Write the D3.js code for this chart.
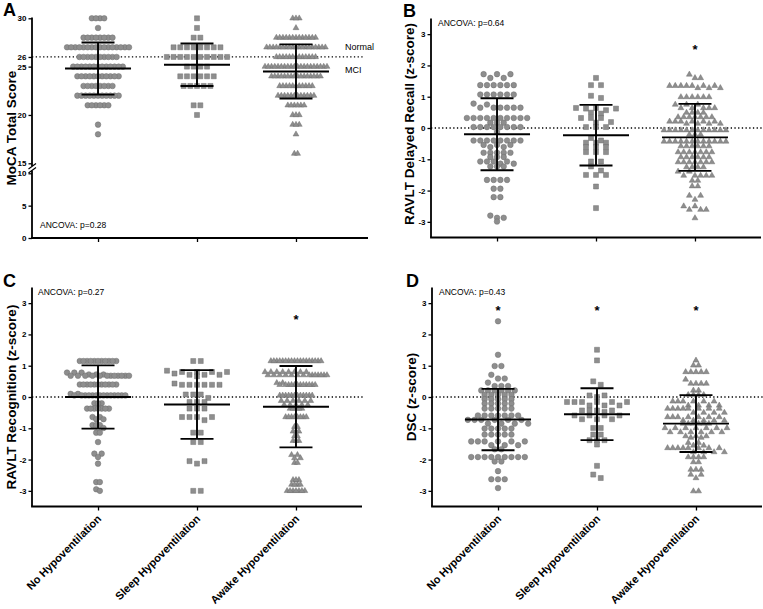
<!DOCTYPE html>
<html><head><meta charset="utf-8">
<script src="https://cdn.jsdelivr.net/npm/d3@7"></script>
<style>body{margin:0;background:#fff}svg{display:block}text{font-family:"Liberation Sans",Arial,sans-serif}</style>
</head><body><svg id="c" width="763" height="609"></svg>
<script>
const groups = ["No Hypoventilation", "Sleep Hypoventilation", "Awake Hypoventilation"];
const mocaTicksHi = [15, 20, 25, 26, 30];
const mocaTicksLo = [0, 5, 10];
const zTicks = [-3, -2, -1, 0, 1, 2, 3];

// Panel A: MoCA total score
const mocaNo = [30,30,30,30, 29, 28,28,28,28,28,28,28,28,
  27,27,27,27,27,27,27,27,27,27,27,27,27,27,27,27,
  26,26,26,26,26,26,26,26,26,26,
  25,25,25,25,25,25,25,25,25,25,25,25,25,
  24,24,24,24,24,24,24,24,24,24,24,
  23,23,23,23,23,23,23,23,
  22,22,22,22,22,22,22,22,22,22,22,
  21,21,21,21,21,21, 19, 18];
const mocaSleep = [30, 29, 28,28, 27,27,27,27,27,27,27,27,
  26,26,26,26,26,26,26,26,26,26, 25,25,25,25, 24,24,24,24,24,24,
  23,23,23,23,23, 21,21, 20];
const mocaAwake = [30,30,30, 29, 28,28,28,28,28,28,28,28,28,28,28,28,28,
  27,27,27,27,27,27,27,27,27,27,27,27,27,27,27,27,27,27,27,
  26,26,26,26,26,26,26,26,26,26,26,26,26,
  25,25,25,25,25,25,25,25,25,25,25,25,25,25,25,25,25,25,25,25,
  24,24,24,24,24,24,24,24,24,24,24,24,24,24,24,24,
  23,23,23,23,23,23,23,23,23,23,23,
  22,22,22,22,22,22,22,22,22,22,22,22,
  21,21,21,21,21,21, 20,20,20, 19,19,19, 18, 16,16];
const mocaMean = [24.8, 25.2, 24.5];
const mocaSD = [2.7, 2.2, 2.8];

// Panel B: RAVLT delayed recall (z-score)
const recallNo = [1.72,1.72,1.72,1.60,1.60, 1.37,1.37,1.37,1.37,1.37,1.37,
  1.07,1.07,1.07,1.07,1.07,1.07, 0.78,0.75, 0.65,0.65,0.65,0.65,0.65,0.65,
  0.32,0.32,0.32,0.32,0.32,0.32,0.32,0.32,0.32,0.32, 0.17,0.17,0.17,
  0.03,0.03,0.03,0.03,0.03,0.03,0.03,0.03, -0.13,
  -0.40,-0.40,-0.40,-0.40,-0.40,-0.40,-0.40,-0.40, -0.54,-0.54,-0.54, -0.61,-0.61,
  -0.79,-0.79,-0.79,-0.79,-0.79, -0.93,-0.93,-0.93, -1.07,-1.07,-1.07,-1.07, -1.14,-1.14,
  -1.23,-1.23,-1.23, -1.66,-1.66,-1.66,-1.66, -1.94,-1.94, -2.21,-2.21,
  -2.80,-2.87,-2.87,-2.99];
const recallSleep = [1.60, 1.37,1.37, 1.03, 0.96, 0.64,0.64,0.62,0.62,0.57, 0.49,0.46,
  0.32,0.32,0.32,0.19, 0.17, 0.03,0.03,0.03, -0.32,-0.40, -0.47,-0.47,-0.47,
  -0.61,-0.61,-0.61, -0.77,-0.77,-0.77, -1.07,-1.07, -1.23, -1.36, -1.50,-1.50,-1.50, -1.87, -2.56];
const recallAwake = [1.71, 1.60,1.60, 1.35,1.35,1.35,1.35,1.35,1.35,1.35, 1.28,1.28,1.28,
  0.99,0.99,0.99,0.99,0.99,0.99, 0.75,0.75,0.75, 0.64,0.64,0.64,0.64,0.64,
  0.49,0.49,0.49,0.49, 0.35,0.35,0.35,0.35,0.35,0.35,0.35,
  0.21,0.21,0.21,0.21,0.21,0.21, 0.14,0.14,0.14,0.14,
  -0.07,-0.07,-0.07,-0.07,-0.07,-0.07,-0.07,-0.07,-0.07,-0.07,-0.07,-0.07, -0.21,-0.21,-0.21,
  -0.43,-0.43,-0.43,-0.43,-0.43,-0.43,-0.43,-0.43,-0.43,-0.43,-0.43,-0.43,
  -0.58,-0.58,-0.58,-0.58,-0.58,-0.58, -0.77,-0.77,-0.77,-0.77,-0.77,-0.77,-0.77,
  -0.93,-0.93,-0.93,-0.93,-0.93,-0.93, -1.09,-1.09,-1.09,-1.09,-1.09,-1.09,-1.09,
  -1.25,-1.25,-1.25,-1.25, -1.39,-1.39, -1.52,-1.52,-1.52,-1.52,-1.52, -1.68,-1.68,
  -1.86,-1.86, -2.16,-2.16, -2.29, -2.50,-2.50, -2.61,-2.61,-2.61, -2.88];
const recallMean = [-0.20, -0.23, -0.30];
const recallSD = [1.15, 0.97, 1.07];

// Panel C: RAVLT recognition (z-score)
const recogNo = [1.15,1.15,1.15,1.15,1.15,1.15,1.15,1.15,1.15,1.15,1.15,
  0.78,0.78,0.78,0.72,0.72,0.72, 0.68,0.68,0.68,0.68,0.68,0.68,0.68,0.68,0.68,0.68,0.68,0.68,
  0.40,0.40,0.40,0.40,0.40,0.40,0.40,0.40,0.40,0.40,0.40,
  0.10,0.10, 0.05,0.05,0.05,0.05,0.05,0.05,0.05,0.05,0.05,0.05,0.05,0.05,0.05,0.05,
  -0.20,-0.20,-0.20, -0.37,-0.37,-0.37,-0.37,-0.37,-0.37,-0.37,
  -0.64,-0.64,-0.71,-0.71, -0.90,-0.90,-0.90,-0.99, -1.14,-1.14, -1.44,
  -1.81,-1.81,-1.92,-2.13, -2.72,-2.72,-2.95,-3.00];
const recogSleep = [1.15,1.15, 0.84,0.80,0.80,0.80,0.80,0.75,0.71,0.71,0.71, 0.66,
  0.43, 0.39,0.39,0.39,0.39,0.39,0.39, 0.08,0.08,0.08,-0.03, -0.16,-0.16,-0.16,
  -0.37,-0.37,-0.37, -0.64,-0.64,-0.64,-0.64,-0.74, -1.14,-1.14, -1.44,-1.44,
  -2.05,-2.05,-2.13, -3.00,-3.00];
const recogAwake = [1.15,1.15,1.15,1.15,1.15,1.15,1.15,1.15,1.15,1.15,1.15,1.15,1.15,1.15,1.15,1.15,1.15,1.15,
  0.80,0.80,0.80,0.80,0.80,0.80,0.80,0.80,
  0.70,0.70,0.70,0.70,0.70,0.70,0.70,0.70,0.70,0.70,0.70,0.70,0.70,0.70,
  0.45,0.45, 0.39,0.39,0.39,0.39,0.39,0.39,0.39,0.39,0.39,0.39,0.39,0.39,
  0.05,0.05,0.05,0.05,0.05,0.05,0.05,0.05,0.05,0.05,0.05,0.05,
  -0.12,-0.12,-0.12,-0.12,-0.12,-0.12, -0.25,-0.25,-0.25,-0.25,-0.25, -0.37,-0.37,-0.37,-0.37,-0.37,
  -0.64,-0.64,-0.64,-0.64,-0.64,-0.64,-0.64,-0.64,
  -0.95,-0.95, -1.10,-1.10,-1.10, -1.25,-1.25, -1.40,-1.40,-1.40,
  -1.85,-1.85, -1.95,-1.95, -2.10,-2.10,
  -2.65,-2.65,-2.65, -2.80,-2.80,-2.80,-2.80, -3.00,-3.00,-3.00,-3.00,-3.00,-3.00,-3.00];
const recogMean = [0.00, -0.24, -0.31];
const recogSD = [1.01, 1.10, 1.30];

// Panel D: DSC (z-score)
const dscNo = [2.42, 1.35, 0.99,0.99, 0.71, 0.59,0.59, 0.46, 0.35,0.35,0.35,
  0.21,0.21,0.21,0.21,0.21,0.21, 0.07,0.07,0.07,0.07,0.07, -0.07,-0.07,-0.07,-0.07,-0.07,
  -0.21,-0.21,-0.21,-0.21,-0.21, -0.37,-0.37,-0.37,-0.37,-0.37,
  -0.59,-0.59,-0.59,-0.59,-0.59,-0.59,-0.59, -0.73,-0.73,-0.73,-0.73,-0.73,-0.73,
  -0.85,-0.85,-0.85,-0.85, -1.01,-1.01,-1.01,-1.01,-1.01, -1.20,-1.20,-1.20,-1.20,-1.20,
  -1.42,-1.42,-1.42,-1.42,-1.42,-1.42, -1.54,-1.54,-1.54, -1.67,-1.67,
  -1.92,-1.92,-1.92,-1.92,-1.92,-1.92,-1.92,-1.92,-1.92, -2.06,-2.06, -2.37,
  -2.63,-2.63,-2.63, -2.91];
const dscSleep = [1.51, 1.17, 0.50, 0.39, 0.05,0.05,0.00,
  -0.16,-0.16,-0.16,-0.16,-0.16,-0.16, -0.27,-0.27,-0.27, -0.43,-0.43,-0.43,-0.43,-0.48,
  -0.59,-0.59,-0.59,-0.59, -0.71,-0.71,-0.71, -0.99,-0.99, -1.20,-1.20,
  -1.38,-1.38,-1.38, -1.52, -2.20, -2.48, -2.59];
const dscAwake = [1.17, 1.01,1.01, 0.80,0.80,0.80,0.80,0.80, 0.56, 0.43,0.43,0.43,0.43,
  0.21,0.21, 0.07,0.07,0.07,0.07, -0.14,-0.14,-0.14,-0.14,-0.14,-0.14, -0.27,-0.27,-0.27,-0.27,
  -0.37,-0.37,-0.37,-0.37,-0.37,-0.37,-0.37,-0.37, -0.50,-0.50,-0.50,-0.50,
  -0.64,-0.64,-0.64,-0.64,-0.64,-0.64,-0.64, -0.75,-0.75,-0.75,-0.75,-0.75,
  -0.85,-0.85,-0.85,-0.85,-0.85,-0.85, -0.99,-0.99,-0.99,-0.99,-0.99,-0.99,-0.99,
  -1.12,-1.12,-1.12,-1.12,-1.12,-1.12, -1.25,-1.25,-1.25, -1.30,-1.30, -1.46,-1.46, -1.55,-1.55,
  -1.63,-1.63,-1.63,-1.63,-1.63,-1.63,-1.63,-1.63, -1.76,-1.76,-1.76,-1.76,
  -1.92,-1.92,-1.92,-1.92, -2.08,-2.08, -2.32,-2.32,-2.32, -2.48,-2.48, -2.59, -3.01,-3.01];
const dscMean = [-0.72, -0.55, -0.85];
const dscSD = [0.98, 0.83, 0.91];

const svg = d3.select("#c");
const shapes = [d3.symbolCircle, d3.symbolSquare, d3.symbolTriangle];
const symSize = [25, 25, 15];

function swarm(values, y, natural, maxW, binH) {
  const pts = values.map(v => ({v, py: y(v)})).sort((a, b) => a.py - b.py);
  const bins = []; let cur = null;
  for (const p of pts) {
    if (!cur || p.py - cur.start > binH) { cur = {start: p.py, items: []}; bins.push(cur); }
    cur.items.push(p);
  }
  const maxN = d3.max(bins, b => b.items.length);
  const s = maxN > 1 ? Math.min(natural, maxW / (maxN - 1)) : natural;
  for (const b of bins) {
    const n = b.items.length, k = Math.ceil(n / 2), order = [];
    for (let i = 0; i < k; i++) { order.push(b.items[i]); if (i + k < n) order.push(b.items[i + k]); }
    order.forEach((p, i) => p.dx = (i - (n - 1) / 2) * s);
  }
  return pts;
}

function panel(o) {
  const g = svg.append("g");
  const x = d3.scalePoint().domain(groups).range([o.left, o.left + 330]).padding(0.667);
  const y = o.y;
  g.append("line").attr("x1", o.left).attr("x2", o.left + 331)
    .attr("y1", y(o.ref)).attr("y2", y(o.ref))
    .attr("stroke", "#000").attr("stroke-width", 1.3).attr("stroke-dasharray", "1.3,2.4");
  o.axes.forEach(a => {
    const ax = g.append("g").attr("transform", `translate(${o.left},0)`)
      .call(d3.axisLeft(a.scale).tickValues(a.ticks).tickFormat(d => String(d))
        .tickSize(3.5).tickPadding(2).tickSizeOuter(0));
    ax.select(".domain").remove();
    ax.selectAll(".tick line").attr("stroke-width", 1.3);
    ax.selectAll(".tick text").attr("font-size", 8).attr("font-weight", "bold")
      .attr("font-family", '"Liberation Sans",Arial,sans-serif');
    g.append("line").attr("x1", o.left).attr("x2", o.left).attr("y1", a.y0).attr("y2", a.y1)
      .attr("stroke", "#000").attr("stroke-width", 1.8);
  });
  const xa = g.append("g").attr("transform", `translate(0,${o.bottom})`)
    .call(d3.axisBottom(x).tickSize(4).tickFormat("").tickSizeOuter(0));
  xa.select(".domain").remove();
  xa.selectAll(".tick line").attr("stroke-width", 1.3);
  g.append("line").attr("x1", o.left - 0.9).attr("x2", o.xEnd).attr("y1", o.bottom).attr("y2", o.bottom)
    .attr("stroke", "#000").attr("stroke-width", 1.8);
  if (o.labels) {
    groups.forEach(c => {
      g.append("text").attr("transform", `translate(${x(c) + 4},${o.bottom + 13}) rotate(-45)`)
        .attr("text-anchor", "end").attr("font-size", 11).attr("font-weight", "bold").text(c);
    });
  }
  o.data.forEach((vals, i) => {
    const pts = swarm(vals, y, o.natural[i], 62, o.binH);
    g.append("g").selectAll("path").data(pts).join("path")
      .attr("d", d3.symbol(shapes[i], symSize[i]))
      .attr("transform", p => `translate(${x(groups[i]) + p.dx},${p.py})`)
      .attr("fill", "#8e8e8e").attr("stroke", "#6c6c6c").attr("stroke-width", 0.45);
  });
  o.mean.forEach((m, i) => {
    const cx = x(groups[i]), sd = o.sd[i];
    const ln = (x1, y1, x2, y2) => g.append("line").attr("x1", x1).attr("y1", y1).attr("x2", x2).attr("y2", y2)
      .attr("stroke", "#000").attr("stroke-width", 1.9);
    ln(cx, y(m - sd), cx, y(m + sd));
    ln(cx - 33, y(m), cx + 33, y(m));
    ln(cx - 16.5, y(m + sd), cx + 16.5, y(m + sd));
    ln(cx - 16.5, y(m - sd), cx + 16.5, y(m - sd));
  });
  o.stars.forEach((s, i) => {
    if (s) g.append("text").attr("x", x(groups[i])).attr("y", y(o.starY) + 7.5).attr("text-anchor", "middle")
      .attr("font-size", 13).attr("font-weight", "bold").text("*");
  });
  g.append("text").attr("transform", `translate(${o.titleX},${o.titleY}) rotate(-90)`)
    .attr("text-anchor", "middle").attr("font-size", 13.5).attr("font-weight", "bold").text(o.title);
  g.append("text").attr("x", o.letter[0]).attr("y", o.letter[1]).attr("font-size", 18)
    .attr("font-weight", "bold").text(o.letterText);
  g.append("text").attr("x", o.anc[0]).attr("y", o.anc[1]).attr("font-size", 8.5).text(o.ancText);
  return g;
}

// Panel A
const yHi = d3.scaleLinear().domain([15, 30]).range([163.3, 18.3]);
const yLo = d3.scaleLinear().domain([0, 10]).range([238, 173.3]);
const yA = v => v >= 15 ? yHi(v) : yLo(v);
const gA = panel({
  left: 32, bottom: 238, xEnd: 368, y: yA, ref: 26,
  axes: [{scale: yHi, ticks: mocaTicksHi, y0: 17.5, y1: 166}, {scale: yLo, ticks: mocaTicksLo, y0: 170.5, y1: 238}],
  data: [mocaNo, mocaSleep, mocaAwake], natural: [6.7, 6.7, 6.7], binH: 4.2,
  mean: mocaMean, sd: mocaSD, stars: [false, false, false], starY: 0,
  title: "MoCA Total Score", titleX: 16, titleY: 128,
  letter: [3, 16], letterText: "A", anc: [40, 228], ancText: "ANCOVA: p=0.28", labels: false
});
gA.append("path").attr("d", "M28.5,169 L36,163.5 M28.5,173 L36,167.5").attr("stroke", "#000").attr("stroke-width", 1.2).attr("fill", "none");
gA.append("text").attr("x", 345).attr("y", 50).attr("font-size", 9).attr("fill", "#000").text("Normal");
gA.append("text").attr("x", 345).attr("y", 73).attr("font-size", 9).attr("fill", "#000").text("MCI");

// Panel B
const yB = d3.scaleLinear().domain([-3.5, 3.5]).range([237.5, 18.5]);
panel({
  left: 431, bottom: 237.5, xEnd: 761, y: yB, ref: 0,
  axes: [{scale: yB, ticks: zTicks, y0: 18.5, y1: 237.5}],
  data: [recallNo, recallSleep, recallAwake], natural: [6.7, 10, 6.7], binH: 4.2,
  mean: recallMean, sd: recallSD, stars: [false, false, true], starY: 2.59,
  title: "RAVLT Delayed Recall (z-score)", titleX: 414, titleY: 124,
  letter: [403, 17], letterText: "B", anc: [438, 26], ancText: "ANCOVA: p=0.64", labels: false
});

// Panel C
const yC = d3.scaleLinear().domain([-3.5, 3.5]).range([506.5, 287.5]);
panel({
  left: 32, bottom: 506.5, xEnd: 362, y: yC, ref: 0,
  axes: [{scale: yC, ticks: zTicks, y0: 287.5, y1: 506.5}],
  data: [recogNo, recogSleep, recogAwake], natural: [6.7, 7.5, 6.7], binH: 4.2,
  mean: recogMean, sd: recogSD, stars: [false, false, true], starY: 2.58,
  title: "RAVLT Recognition (z-score)", titleX: 16, titleY: 397,
  letter: [3, 287], letterText: "C", anc: [38, 295], ancText: "ANCOVA: p=0.27", labels: true
});

// Panel D
const yD = d3.scaleLinear().domain([-3.5, 3.5]).range([506.5, 287.5]);
panel({
  left: 432, bottom: 506.5, xEnd: 762, y: yD, ref: 0,
  axes: [{scale: yD, ticks: zTicks, y0: 287.5, y1: 506.5}],
  data: [dscNo, dscSleep, dscAwake], natural: [6.7, 7.5, 6.7], binH: 4.2,
  mean: dscMean, sd: dscSD, stars: [true, true, true], starY: 2.86,
  title: "DSC (z-score)", titleX: 416, titleY: 397,
  letter: [406, 287], letterText: "D", anc: [439, 295], ancText: "ANCOVA: p=0.43", labels: true
});
</script></body></html>
